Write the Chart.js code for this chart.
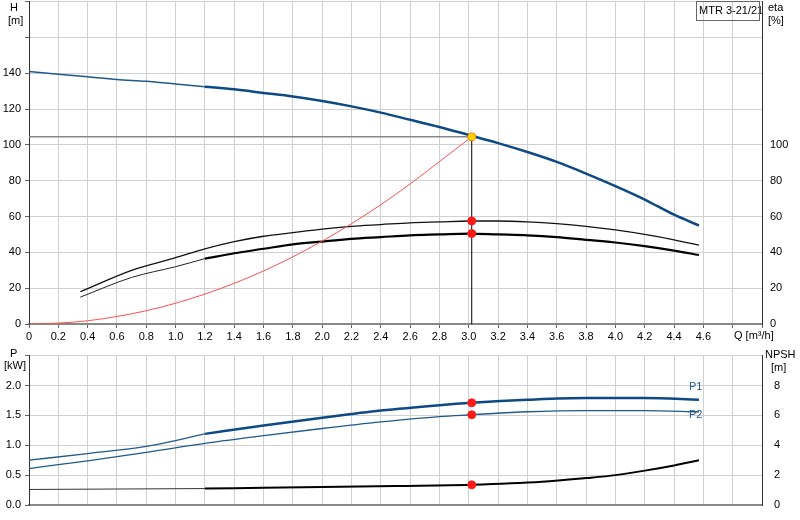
<!DOCTYPE html>
<html><head><meta charset="utf-8">
<script src="https://cdn.jsdelivr.net/npm/chart.js@4"></script>
<style>body{margin:0;background:#fff}canvas{display:block}</style>
</head><body>
<div style="width:800px;height:345px;position:relative;overflow:hidden"><div style="position:absolute;left:0;top:-9px;width:800px;height:354px"><canvas id="a"></canvas></div></div>
<div style="width:800px;height:175px"><canvas id="b"></canvas></div>
<script>
const qHead=[0,0.2,0.4,0.6,0.8,1.0,1.2,1.4,1.6,1.8,2.0,2.2,2.4,2.6,2.8,3.0,3.2,3.4,3.6,3.8,4.0,4.2,4.4,4.57];
const head=[141,139.5,138,136.5,135.5,134,132.5,131,129,127,124.5,121.5,118,114,110,105.5,101,96,90.5,84,77,69.5,61,55];
const qEta=[0.35,0.7,1.0,1.2,1.4,1.6,1.8,2.0,2.2,2.4,2.6,2.8,3.0,3.2,3.4,3.6,3.8,4.0,4.2,4.4,4.57];
const eta1=[18,30,37,42,46,49,51,53,54.5,55.5,56.5,57,57.5,57.5,57,56,54.5,52.5,50,47,44];
const eta2=[15,26,32,36.5,39.5,42,44.5,46,47.5,48.5,49.5,50,50.5,50,49.5,48.5,47,45.5,43.5,41,38.5];
const qSys=[0,0.2,0.4,0.6,0.8,1.0,1.2,1.4,1.6,1.8,2.0,2.2,2.4,2.6,2.8,3.02];
const sysH=[0,0.5,1.8,4.2,7.4,11.6,16.7,22.7,29.6,37.5,46.3,56,66.6,78.2,90.7,104.5];
const qP=[0,0.4,0.8,1.2,1.6,2.0,2.4,2.8,3.02,3.4,3.8,4.2,4.57];
const p1=[0.75,0.86,0.98,1.19,1.33,1.46,1.58,1.67,1.71,1.76,1.79,1.79,1.76];
const p2=[0.61,0.74,0.88,1.03,1.16,1.28,1.39,1.48,1.51,1.56,1.58,1.58,1.56];
const qN=[0,1.2,1.6,2.0,2.5,3.02,3.5,3.8,4.0,4.2,4.4,4.57];
const npsh=[1.04,1.1,1.15,1.2,1.27,1.35,1.55,1.8,2.0,2.3,2.65,3.0];
const opQ=3.02, opH=104.5, opEta1=57.5, opEta2=50.5, opP1=1.71, opP2=1.51, opN=1.35;
const xTicks=[0,0.2,0.4,0.6,0.8,1.0,1.2,1.4,1.6,1.8,2.0,2.2,2.4,2.6,2.8,3.0,3.2,3.4,3.6,3.8,4.0,4.2,4.4,4.6];

const pts=(xs,ys,from,to)=>xs.map((x,i)=>({x,y:ys[i]})).filter(p=>p.x>=(from??-1)&&p.x<=(to??99));
const F='"Liberation Sans", Arial, sans-serif';
Chart.defaults.font.family=F;Chart.defaults.font.size=11;Chart.defaults.color='#000';
Chart.defaults.animation=false;
const grid={color:'#d0d0d0',lineWidth:1,drawTicks:true,tickLength:4,tickColor:'#666'};
const line=(data,color,w,yAxisID,extra)=>Object.assign({type:'line',data,borderColor:color,borderWidth:w,pointRadius:0,cubicInterpolationMode:'monotone',fill:false,yAxisID,order:2},extra||{});
const dot=(x,y,yAxisID,bg,bc)=>({type:'scatter',data:[{x,y}],pointRadius:4,pointBorderWidth:1,pointBackgroundColor:bg||'#ff1a1a',pointBorderColor:bc||'#ff1a1a',yAxisID,order:0});
function texts(list){return{id:'t'+Math.random(),afterDraw(c){const x=c.ctx;x.save();list.forEach(t=>{x.font=(t.s||11)+'px '+F;x.fillStyle=t.c||'#000';x.textAlign=t.a||'left';x.textBaseline='middle';x.fillText(t.t,t.x,t.y);if(t.box){x.strokeStyle='#666';x.lineWidth=1;x.strokeRect(t.box[0]+.5,t.box[1]+.5,t.box[2],t.box[3]);}});x.restore();}}}
const xScale=(showTicks)=>({type:'linear',min:0,max:5.0,afterBuildTicks:a=>{const t=[];for(let i=0;i<=25;i++)t.push({value:+(i*0.2).toFixed(1)});a.ticks=t;},
 ticks:{display:showTicks,autoSkip:false,maxRotation:0,padding:2,callback:v=>xTicks.includes(+v.toFixed(1))?v.toFixed(1).replace('0.0','0'):''},
 grid:Object.assign({},grid,{drawTicks:showTicks}),border:{color:'#888',width:2},afterFit:a=>{a.height=showTicks?21:0}});
const O=9;
new Chart(document.getElementById('a'),{data:{datasets:[
 line([{x:0,y:opH},{x:opQ,y:opH}],'#888',1.5,'y',{tension:0,cubicInterpolationMode:'default'}),
 line([{x:opQ,y:0},{x:opQ,y:opH}],'#000',1,'y',{tension:0,cubicInterpolationMode:'default'}),
 line(pts(qSys,sysH),'#ff5050',1,'y'),
 line(pts(qHead,head,0,1.2),'#1f5a8a',1.5,'y'),
 line(pts(qHead,head,1.2),'#0d4a85',2.5,'y'),
 line(pts(qEta,eta1),'#111',1.3,'e'),
 line(pts(qEta,eta2,0,1.2),'#222',1,'e'),
 line(pts(qEta,eta2,1.2),'#000',2.2,'e'),
 dot(opQ,opEta1,'e'),dot(opQ,opEta2,'e'),
 dot(opQ,opH,'y','#ffd700','#ff7f00')
]},options:{responsive:true,maintainAspectRatio:false,layout:{padding:0},plugins:{legend:{display:false},tooltip:{enabled:false}},
 scales:{x:xScale(true),
 y:{type:'linear',min:0,max:180,ticks:{stepSize:20,padding:4,callback:v=>v<=140?v:''},grid,border:{color:'#333'},afterFit:a=>{a.width=29}},
 e:{type:'linear',position:'right',min:0,max:180,ticks:{stepSize:20,padding:4,callback:v=>v<=100?v:''},grid:{display:false,drawTicks:true,tickLength:4},border:{color:'#333'},afterFit:a=>{a.width=38}}}},
 plugins:[texts([{t:'H',x:10,y:8+O},{t:'[m]',x:8,y:21+O},{t:'eta',x:768,y:8+O},{t:'[%]',x:768,y:21+O},{t:'MTR 3-21/21',x:699,y:11+O,box:[696,1+O,63,19]},{t:'Q [m³/h]',x:734,y:336+O}])]});

new Chart(document.getElementById('b'),{data:{datasets:[
 line(pts(qP,p1,0,1.2),'#1f5a8a',1.3,'y'),
 line(pts(qP,p1,1.2),'#0d4a85',2.5,'y'),
 line(pts(qP,p2),'#1f5a8a',1.3,'y'),
 line(pts(qN,npsh,0,1.2),'#333',1,'n'),
 line(pts(qN,npsh,1.2),'#000',2,'n'),
 dot(opQ,opP1,'y'),dot(opQ,opP2,'y'),dot(opQ,opN,'n')
]},options:{responsive:true,maintainAspectRatio:false,layout:{padding:{top:0,bottom:15}},plugins:{legend:{display:false},tooltip:{enabled:false}},
 scales:{x:xScale(false),
 y:{type:'linear',min:0,max:2.5,ticks:{stepSize:0.5,padding:4,callback:v=>v<2.5?v.toFixed(1):''},grid,border:{color:'#333'},afterFit:a=>{a.width=29}},
 n:{type:'linear',position:'right',min:0,max:10,ticks:{stepSize:2,padding:4,callback:v=>v<10?v:''},grid:{display:false},border:{color:'#333'},afterFit:a=>{a.width=38}}}},
 plugins:[texts([{t:'P',x:10,y:9},{t:'[kW]',x:4,y:21},{t:'NPSH',x:765,y:10},{t:'[m]',x:771,y:23},{t:'P1',x:689,y:42,c:'#1f5a8a'},{t:'P2',x:689,y:70,c:'#1f5a8a'}])]});
</script></body></html>
